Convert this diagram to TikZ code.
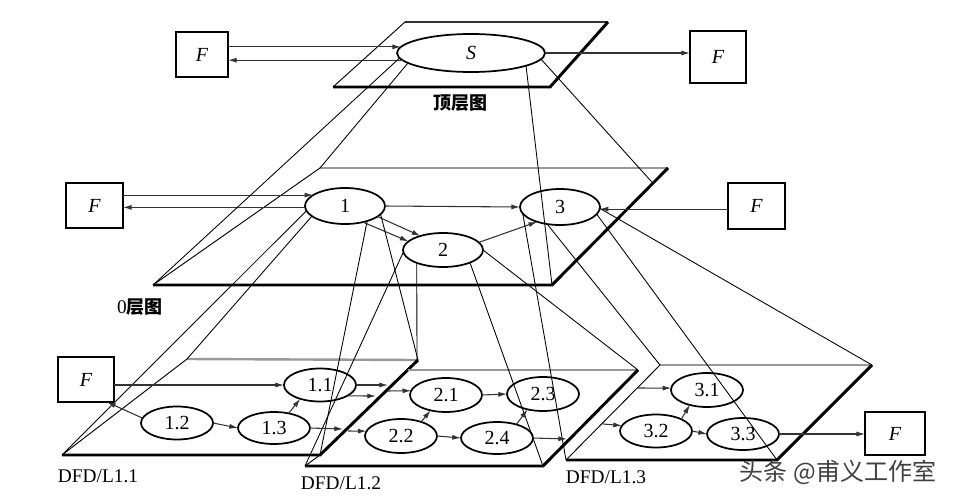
\documentclass[tikz,border=0pt]{standalone}
\usepackage{fontspec}
\setmainfont{Liberation Serif}
\newfontfamily\cjk{Noto Sans CJK SC}
\usetikzlibrary{shapes.geometric,arrows.meta,calc}
\begin{document}
\begin{tikzpicture}[x=0.75pt,y=-0.75pt,
  ell/.style 2 args={draw, ellipse, line width=1.3pt, inner sep=0pt, outer sep=0pt,
    minimum width=#1*0.75pt, minimum height=#2*0.75pt, font=\fontsize{15}{17}\selectfont},
  fbox/.style 2 args={draw, line width=1.3pt, inner sep=0pt, outer sep=0pt,
    minimum width=#1*0.75pt, minimum height=#2*0.75pt, font=\fontsize{15}{17}\selectfont\itshape},
  arr/.style={-{Latex[length=6.5pt,width=3.8pt]}, line width=0.8pt, black!80},
  proj/.style={line width=0.65pt, black},
  hedge/.style={line width=2.2pt, black, line join=miter},
  tedge/.style={line width=0.7pt, black},
  gedge/.style={line width=1.8pt, black!40},
  lab/.style={font=\fontsize{14.5}{16}\selectfont, inner sep=0pt},
  clab/.style={font=\fontsize{13.5}{15}\selectfont\cjk\bfseries, inner sep=0pt}
]
\fill[white] (0,0) rectangle (953,500);
\useasboundingbox (0,0) rectangle (953,500);

% ---------- plane corners ----------
\coordinate (tTL) at (405,22);  \coordinate (tTR) at (608,22);
\coordinate (tBR) at (550,87);  \coordinate (tBL) at (333,87);
\coordinate (mTL) at (320,168); \coordinate (mTR) at (668,168);
\coordinate (mBR) at (552,285); \coordinate (mBL) at (153,285);
\coordinate (mR) at ($(mTR)!0.13!(mBR)$);
\coordinate (aTL) at (187,359); \coordinate (aTR) at (418,360);
\coordinate (aBR) at (320,455); \coordinate (aBL) at (62,455);
\coordinate (bTs) at (408,370); \coordinate (bTR) at (638,370);
\coordinate (bBR) at (543,466); \coordinate (bBL) at (305,466);
\coordinate (bTLv) at (417,361);
\coordinate (cTL) at (660,365); \coordinate (cTR) at (872,365);
\coordinate (cBR) at (777,460); \coordinate (cBL) at (566,460);

% ---------- planes ----------
\draw[line width=1.2pt, black!80] (tTL) -- (tTR);
\draw[tedge] (tBL) -- (tTL);
\draw[hedge] (tBL) -- (tBR) -- (tTR);

\draw[gedge] (mTL) -- (mTR);
\draw[tedge] (mBL) -- (mTL);
\draw[hedge] (mBL) -- (mBR) -- (mTR);

\draw[gedge] (aTL) -- (aTR);
\draw[tedge] (aBL) -- (aTL);
\draw[hedge] (aBL) -- (aBR) -- (aTR);

\draw[gedge] (bTs) -- (bTR);
\draw[tedge] (bBL) -- (aBR);
\draw[hedge] (bBL) -- (bBR) -- (bTR);

\draw[gedge] (cTL) -- (cTR);
\draw[tedge] (cBL) -- (cTL);
\draw[hedge] (cBL) -- (cBR) -- (cTR);

% ---------- top level ----------
\node[ell={148}{38}, font=\fontsize{15}{17}\selectfont\itshape] (S) at (471,53) {S};
\node[fbox={52}{45}] (Ft1) at (202,54.5) {F};
\node[fbox={56}{52}] (Ft2) at (718,57) {F};
\draw[arr] (Ft1.east |- S.175) -- (S.175);
\draw[arr] (S.186) -- (Ft1.east |- S.186);
\draw[arr] (S.east) -- (Ft2.west |- S.east);
\node[clab] (ltop) at (460,103) {顶层图};

% ---------- level 0 ----------
\node[ell={80}{36}] (e1) at (345,206) {1};
\node[ell={80}{34}] (e2) at (443,250) {2};
\node[ell={80}{36}] (e3) at (560,207) {3};
\node[fbox={57}{45}] (Fm1) at (94.5,205.5) {F};
\node[fbox={57}{46}] (Fm2) at (756.5,206) {F};
\draw[arr] (Fm1.east |- e1.161) -- (e1.161);
\draw[arr] (e1.182) -- (Fm1.east |- e1.182);
\draw[arr] (e1.east) -- (e3.west);
\draw[arr] (e1.342) -- (e2.148);
\draw[arr] (e1.318) -- (e2.166);
\draw[arr] (e2.12) -- (e3.213);
\draw[arr] (Fm2.west |- e3.357) -- (e3.357);
\node[lab] (l0) at (140,307) {0{\cjk\bfseries\fontsize{13.5}{15}\selectfont 层图}};

% ---------- projection lines ----------
\draw[proj] (S.184) -- (mBL);
\draw[proj] (S.189) -- (mTL);
\draw[proj] (S.347) -- (mBR);
\draw[proj] (S.355) -- (mR);

\draw[proj] (e1.187) -- (aBL);
\draw[proj] (e1.197) -- (aTL);
\draw[proj] (e1.326) -- (aBR);
\draw[proj] (e1.347) -- (aTR);

\draw[proj] (e2.183) -- (bBL);
\draw[proj] (e2.206) -- (bTLv);
\draw[proj] (e2.335) -- (bBR);
\draw[proj] (e2.east) -- (bTR);

\draw[proj] (e3.190) -- (cBL);
\draw[proj] (e3.233) -- (cTL);
\draw[proj] (e3.349) -- (cBR);
\draw[proj] (e3.358) -- (cTR);

% ---------- level 1 ----------
\node[ell={72}{33}] (e11) at (320,385) {1.1};
\node[ell={72}{33}] (e12) at (177,423) {1.2};
\node[ell={72}{32}] (e13) at (274,428) {1.3};
\node[ell={72}{34}] (e21) at (446,395) {2.1};
\node[ell={72}{34}] (e22) at (401,436) {2.2};
\node[ell={72}{34}] (e23) at (543,394) {2.3};
\node[ell={72}{32}] (e24) at (497,438) {2.4};
\node[ell={72}{34}] (e31) at (707,390) {3.1};
\node[ell={72}{33}] (e32) at (656,431) {3.2};
\node[ell={72}{32}] (e33) at (743,434) {3.3};
\node[fbox={56}{45}] (Fb1) at (86,379.5) {F};
\node[fbox={60}{43}] (Fb2) at (895,433.5) {F};

\coordinate (q1) at (388,385);
\coordinate (q2) at (376,396);
\coordinate (q3) at (387,391);
\coordinate (q4) at (343,429);
\coordinate (q5) at (348,431);
\coordinate (q6) at (567,439);
\coordinate (q7) at (638,388);
\coordinate (q8) at (603,424);

\draw[arr] (Fb1.east |- e11.west) -- (e11.west);
\draw[arr] (e12.172) -- (Fb1.313);
\draw[arr] (e12.east) -- (e13.west);
\draw[arr] (e13.45) -- (e11.215);
\draw[arr] (e11.east) -- (q1);
\draw[arr] (e11.338) -- (q2);
\draw[arr] (q3) -- (e21.173);
\draw[arr] (e13.east) -- (q4);
\draw[arr] (q5) -- (e22.172);
\draw[arr] (e21.east) -- (e23.west);
\draw[arr] (e22.35) -- (e21.225);
\draw[arr] (e22.east) -- (e24.west);
\draw[arr] (e24.35) -- (e23.225);
\draw[arr] (e24.east) -- (q6);
\draw[arr] (q7) -- (e31.177);
\draw[arr] (q8) -- (e32.171);
\draw[arr] (e32.25) -- (e31.221);
\draw[arr] (e32.east) -- (e33.west);
\draw[arr] (e33.east) -- (Fb2.west |- e33.east);

% ---------- labels ----------
\node[lab] (la) at (98,476) {DFD/L1.1};
\node[lab] (lb) at (341,483) {DFD/L1.2};
\node[lab] (lc) at (606,477) {DFD/L1.3};
\node[font=\fontsize{18}{20}\selectfont\cjk, text=black!75, inner sep=0pt] (wm) at (838,472) {头条 @甫义工作室};
\end{tikzpicture}
\end{document}
